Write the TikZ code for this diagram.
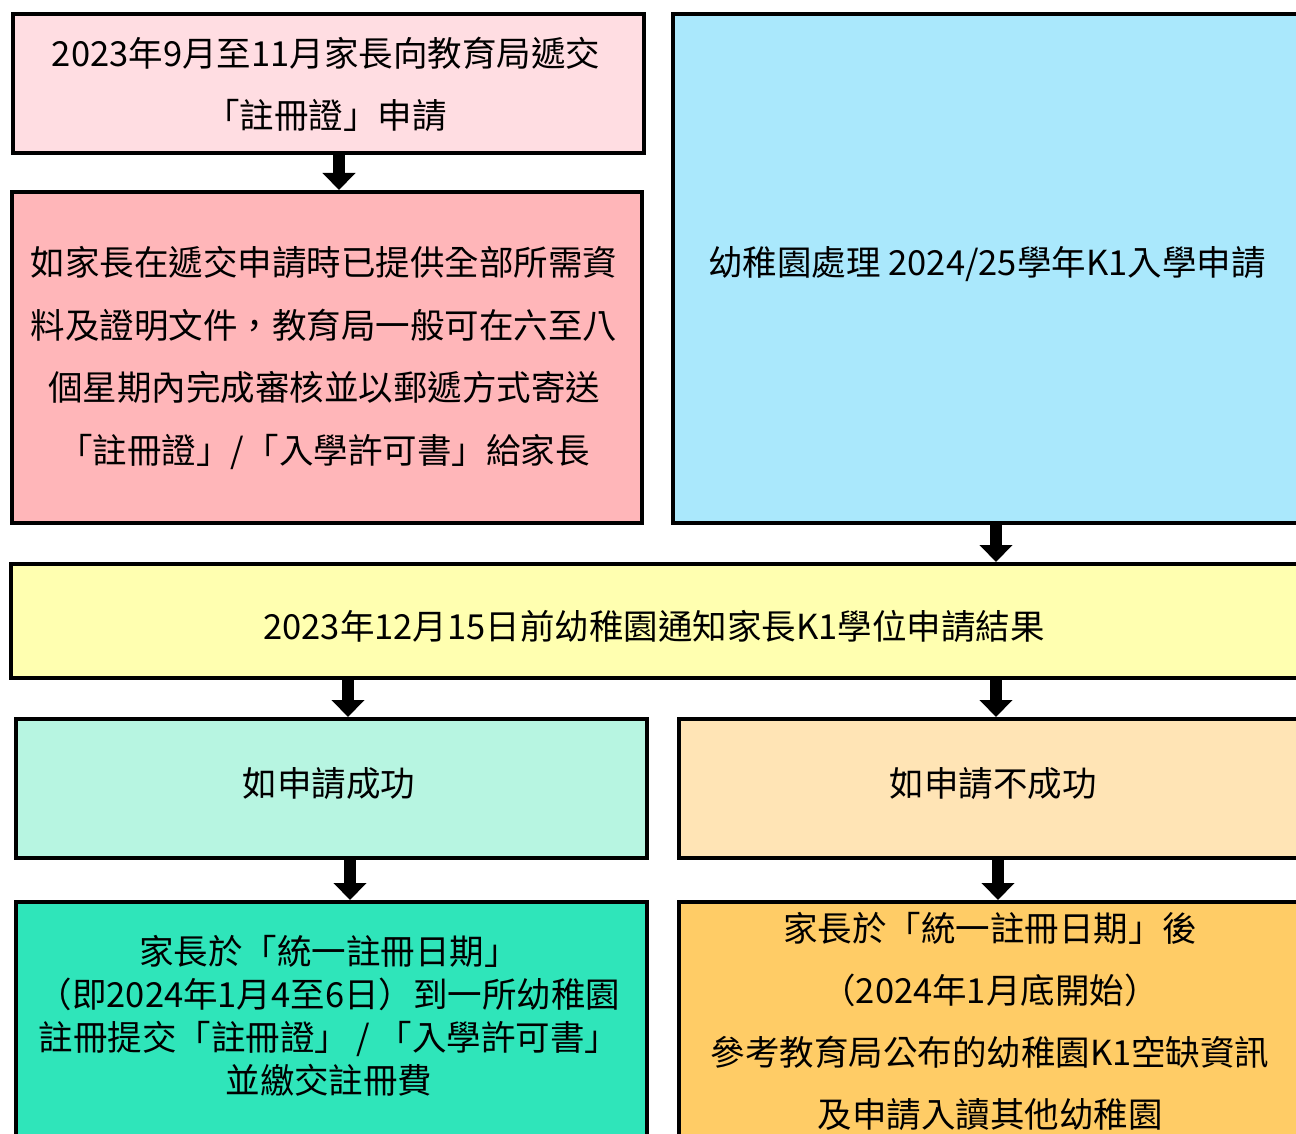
\documentclass[tikz,border=0pt]{standalone}
\usepackage{fontspec}
\setmainfont{Noto Sans CJK TC}
\usetikzlibrary{arrows.meta}
\definecolor{cA}{HTML}{FFDDE2}
\definecolor{cB}{HTML}{FFB6B9}
\definecolor{cC}{HTML}{AAE8FC}
\definecolor{cD}{HTML}{FFFFB0}
\definecolor{cE}{HTML}{B7F5E1}
\definecolor{cF}{HTML}{FFE4B5}
\definecolor{cG}{HTML}{2FE5BA}
\definecolor{cH}{HTML}{FFCC66}
\begin{document}
\begin{tikzpicture}[x=1pt,y=-1pt,
  box/.style={draw=black, line width=4pt, rectangle, inner sep=0pt, anchor=north west},
  txt/.style={align=center, inner sep=0pt, font=\fontsize{34.5}{62}\selectfont},
  arr/.style={line width=12pt, -{Triangle[width=32pt,length=17pt]}}]
\useasboundingbox (0,0) rectangle (1296,1134);
\clip (0,0) rectangle (1296,1134);
\fill[white] (0,0) rectangle (1296,1134);
% boxes
\node[box, fill=cA, minimum width=631pt, minimum height=139pt] (b1) at (11,12) {};
\node[box, fill=cB, minimum width=630pt, minimum height=331pt] (b2) at (10,190) {};
\node[box, fill=cC, minimum width=640pt, minimum height=509pt] (b3) at (671,12) {};
\node[box, fill=cD, minimum width=1301pt, minimum height=114pt] (b4) at (9,562) {};
\node[box, fill=cE, minimum width=631pt, minimum height=139pt] (b5) at (14,717) {};
\node[box, fill=cF, minimum width=634pt, minimum height=139pt] (b6) at (677,717) {};
\node[box, fill=cG, minimum width=631pt, minimum height=300pt] (b7) at (14,900) {};
\node[box, fill=cH, minimum width=634pt, minimum height=300pt] (b8) at (677,900) {};
% texts
\node[txt] (t1) at (326,84) {2023年9月至11月家長向教育局遞交\\「註冊證」申請};
\node[txt, font=\fontsize{34.5}{62.5}\selectfont] (t2) at (324,358) {如家長在遞交申請時已提供全部所需資\\料及證明文件，教育局一般可在六至八\\個星期內完成審核並以郵遞方式寄送\\「註冊證」/「入學許可書」給家長};
\node[txt] (t3) at (987,264) {幼稚園處理 2024/25學年K1入學申請};
\node[txt] (t4) at (654,626) {2023年12月15日前幼稚園通知家長K1學位申請結果};
\node[txt] (t5) at (329,784) {如申請成功};
\node[txt] (t6) at (993,784) {如申請不成功};
\node[txt, font=\fontsize{34.5}{43}\selectfont] (t7) at (329,1016) {家長於「統一註冊日期」\\（即2024年1月4至6日）到一所幼稚園\\註冊提交「註冊證」 / 「入學許可書」\\並繳交註冊費};
\node[txt] (t8) at (990,1021) {家長於「統一註冊日期」後\\（2024年1月底開始）\\參考教育局公布的幼稚園K1空缺資訊\\及申請入讀其他幼稚園};
% arrows
\draw[arr] (b1.south -| 339,0) -- (b2.north -| 339,0);
\draw[arr] (b3.south -| 996,0) -- (b4.north -| 996,0);
\draw[arr] (b4.south -| 348,0) -- (b5.north -| 348,0);
\draw[arr] (b4.south -| 996,0) -- (b6.north -| 996,0);
\draw[arr] (b5.south -| 350,0) -- (b7.north -| 350,0);
\draw[arr] (b6.south -| 998,0) -- (b8.north -| 998,0);
\end{tikzpicture}
\end{document}
